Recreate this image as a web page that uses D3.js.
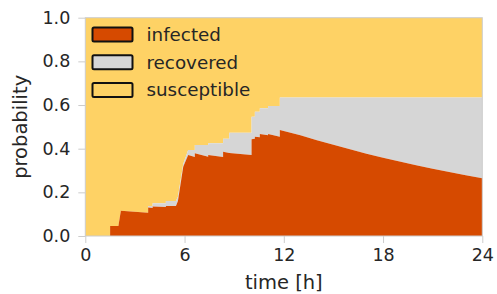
<!DOCTYPE html>
<html lang="en">
<head>
<meta charset="UTF-8">
<title>Infection probability</title>
<script src="https://cdnjs.cloudflare.com/ajax/libs/d3/7.8.5/d3.min.js"></script>
<style>
    * { margin: 0; padding: 0; }
    body { background: #fff; width: 497px; height: 294px; overflow: hidden; }
    text { font-family: 'DejaVu Sans', sans-serif; fill: #262626; }
</style>
</head>
<body>
<div id="chart"></div>
<script>
// time points (hours); duplicates mark step jumps
const times = [0, 1.5, 1.5, 2.0, 2.15, 3.8, 3.8, 4.07, 4.07, 4.87, 4.87, 5.48, 5.6, 5.92, 6.22,
    6.62, 6.62, 7.43, 7.43, 8.33, 8.33, 8.7, 8.7, 10.05, 10.05, 10.25, 10.25, 10.55, 10.55, 11.05, 11.05, 11.76, 11.76,
    13, 14, 15, 16, 17, 18, 19, 20, 21, 22, 23, 24];
// infected probability
const infected = [0, 0, 0.046, 0.046, 0.116, 0.107, 0.131, 0.128, 0.135, 0.133, 0.138, 0.137, 0.16, 0.317, 0.371,
    0.362, 0.379, 0.363, 0.371, 0.362, 0.386, 0.38, 0.38, 0.371, 0.443, 0.445, 0.455, 0.452, 0.467, 0.462, 0.467, 0.455, 0.486,
    0.462, 0.439, 0.418, 0.397, 0.377, 0.358, 0.341, 0.324, 0.308, 0.293, 0.278, 0.264];
// infected + recovered
const everInfected = [0, 0, 0.046, 0.046, 0.116, 0.107, 0.137, 0.137, 0.150, 0.150, 0.160, 0.160, 0.18, 0.33, 0.394,
    0.394, 0.417, 0.417, 0.425, 0.425, 0.446, 0.446, 0.473, 0.473, 0.546, 0.546, 0.569, 0.569, 0.585, 0.585, 0.595, 0.595, 0.635,
    0.635, 0.635, 0.635, 0.635, 0.635, 0.635, 0.635, 0.635, 0.635, 0.635, 0.635, 0.635];
const xTicks = [0, 6, 12, 18, 24];
const yTicks = [0, 0.2, 0.4, 0.6, 0.8, 1.0];
const legendLabels = ['infected', 'recovered', 'susceptible'];
const colors = ['#d64a00', '#d6d6d6', '#fed265'];

const W = 497, H = 294;
const margin = {top: 17.7, right: 14.7, bottom: 58, left: 85.3};
const width = W - margin.left - margin.right;
const height = H - margin.top - margin.bottom;

const svg = d3.select('#chart').append('svg')
    .attr('width', W).attr('height', H);
const g = svg.append('g').attr('transform', `translate(${margin.left},${margin.top})`);

const x = d3.scaleLinear().domain([0, 24]).range([0, width]);
const y = d3.scaleLinear().domain([0, 1]).range([height, 0]);

const rows = times.map((t, i) => ({t, inf: infected[i], tot: everInfected[i]}));

// susceptible background
g.append('path').datum(rows)
    .attr('fill', colors[2])
    .attr('d', d3.area().x(d => x(d.t)).y0(d => y(d.tot)).y1(y(1)));
// recovered band
g.append('path').datum(rows)
    .attr('fill', colors[1])
    .attr('d', d3.area().x(d => x(d.t)).y0(d => y(d.inf)).y1(d => y(d.tot)));
// infected
g.append('path').datum(rows)
    .attr('fill', colors[0])
    .attr('d', d3.area().x(d => x(d.t)).y0(y(0)).y1(d => y(d.inf)));

// frame
g.append('rect').attr('width', width).attr('height', height)
    .attr('fill', 'none').attr('stroke', '#cccccc').attr('stroke-width', 1);

const xAxis = g.append('g').attr('transform', `translate(0,${height})`)
    .call(d3.axisBottom(x).tickValues(xTicks).tickSize(7).tickPadding(6).tickFormat(d3.format('d')));
const yAxis = g.append('g')
    .call(d3.axisLeft(y).tickValues(yTicks).tickSize(7).tickPadding(8).tickFormat(d3.format('.1f')));
[xAxis, yAxis].forEach(a => {
    a.select('.domain').remove();
    a.selectAll('line').attr('stroke', '#cccccc');
    a.selectAll('text').attr('font-size', 17.5).attr('fill', '#262626')
        .style('font-family', "'DejaVu Sans', sans-serif");
});

svg.append('text')
    .attr('x', margin.left + width / 2).attr('y', 289)
    .attr('text-anchor', 'middle').attr('font-size', 19.5)
    .text('time [h]');
svg.append('text')
    .attr('transform', `translate(27,${margin.top + height / 2}) rotate(-90)`)
    .attr('text-anchor', 'middle').attr('font-size', 19.5)
    .text('probability');

// legend
const legend = svg.append('g').attr('transform', 'translate(92.5,27.5)');
legendLabels.forEach((name, i) => {
    const row = legend.append('g').attr('transform', `translate(0,${i * 27.7})`);
    row.append('rect').attr('width', 40).attr('height', 14).attr('rx', 1.5)
        .attr('fill', colors[i]).attr('stroke', '#111').attr('stroke-width', 2);
    row.append('text').attr('x', 54).attr('y', 13.5)
        .attr('font-size', 18.3).text(name);
});
</script>
</body>
</html>
